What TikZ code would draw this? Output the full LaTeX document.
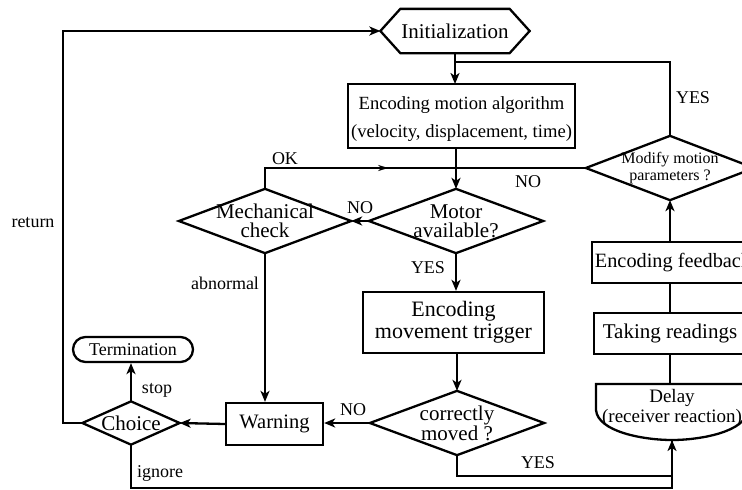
\documentclass[tikz,border=0pt]{standalone}
\usepackage{fontspec}
\setmainfont{Liberation Serif}
\usetikzlibrary{arrows.meta,decorations.markings}
\begin{document}
\begin{tikzpicture}[x=1pt,y=-1pt,
  line width=2.3pt,
  >={Stealth[length=11pt,width=9pt,inset=3pt]},
  box/.style={draw, rectangle, inner xsep=1pt, inner ysep=0pt, align=center},
  shapebox/.style={rectangle, inner sep=0pt, align=center},
  lbl/.style={inner sep=0pt, font=\fontsize{18}{20}\selectfont},
  midarrow/.style={postaction={decorate},decoration={markings,
     mark=at position #1 with {\arrow{Stealth[length=10pt,width=6pt,inset=3pt]}}}}
]
\useasboundingbox (0,0) rectangle (742,490);
\clip (0,0) rectangle (742,490);

% ---- nodes ----
\node[shapebox, minimum width=147pt, minimum height=42pt, font=\fontsize{21}{24}\selectfont] (init) at (455,31) {Initialization};
\draw (init.west) -- ([xshift=20pt]init.north west) -- ([xshift=-20pt]init.north east) -- (init.east)
   -- ([xshift=-20pt]init.south east) -- ([xshift=20pt]init.south west) -- cycle;

\draw (348,84) rectangle (575,148);
\node[shapebox, minimum width=227pt, minimum height=64pt, font=\fontsize{18.6}{28}\selectfont] (alg) at (461.5,119)
  {Encoding motion algorithm\\(velocity, displacement, time)};
\coordinate (algtop) at (456,84);
\coordinate (algbot) at (456,148);

\node[shapebox, minimum width=172pt, minimum height=62pt, font=\fontsize{21}{19}\selectfont] (motor) at (456,221) {Motor\\available?};
\node[shapebox, minimum width=170pt, minimum height=62pt, font=\fontsize{21}{19}\selectfont] (mech) at (265,221) {Mechanical\\check};
\node[box, minimum width=181pt, minimum height=61pt, font=\fontsize{22}{22}\selectfont] (trig) at (453.5,322.5) {Encoding\\movement trigger};
\node[shapebox, minimum width=172pt, minimum height=62pt, font=\fontsize{21}{20}\selectfont] (corr) at (457,423) {correctly\\moved ?};
\node[box, minimum width=97pt, minimum height=42pt, font=\fontsize{20.5}{22}\selectfont] (warn) at (274.5,424) {Warning};
\node[shapebox, minimum width=95pt, minimum height=41pt, font=\fontsize{21}{22}\selectfont] (choice) at (131,423) {Choice};
\node[box, rounded corners=12.5pt, minimum width=120pt, minimum height=25pt, font=\fontsize{18}{20}\selectfont] (term) at (133,349.5) {Termination};
\node[shapebox, minimum width=166pt, minimum height=62pt, font=\fontsize{16}{17}\selectfont] (modify) at (670,168) {Modify motion\\parameters ?};
\node[box, minimum width=162pt, minimum height=41pt, font=\fontsize{20.3}{22}\selectfont] (feed) at (673,262.5) {Encoding feedback};
\node[box, minimum width=152pt, minimum height=41pt, font=\fontsize{21}{22}\selectfont] (read) at (670,333.5) {Taking readings};
\node[shapebox, minimum width=150pt, minimum height=40pt, font=\fontsize{19}{20}\selectfont] (delay) at (672,408) {Delay\\(receiver reaction)};
\draw (596,384) -- (748,384) -- (748,410) .. controls (746,432) and (700,440) .. (672,440)
   .. controls (644,440) and (598,432) .. (596,410) -- cycle;
\coordinate (delaytop) at (672,384);
\coordinate (delaybot) at (672,440);

\foreach \n in {motor,mech,corr,choice,modify}
  \draw (\n.north) -- (\n.east) -- (\n.south) -- (\n.west) -- cycle;

% ---- helper coordinates ----
\coordinate (retcorner) at (63,423);
\coordinate (yesj) at (455,62);
\coordinate (okj) at (456,168);
\coordinate (ign) at (131,488);
\coordinate (yesc) at (457,476);

% ---- connectors ----
\draw[->] (choice.west) -- (retcorner) |- (init.west);
\draw[->] (init.south) -- (init.south |- algtop);
\draw (modify.north) |- (yesj);
\draw[->] (algbot) -- (motor.north);
\draw[midarrow=0.68] (mech.north) |- (okj);
\draw (modify.west) -- (okj);
\draw[->] (motor.west) -- (mech.east);
\draw[->] (motor.south) -- (trig.north -| motor.south);
\draw[->] (trig.south -| corr.north) -- (corr.north);
\draw[->] (corr.west) -- (warn.east |- corr.west);
\draw[->] (mech.south) -- (mech.south |- warn.north);
\draw[->] (warn.west) -- (choice.east);
\draw[->] (choice.north) -- (choice.north |- term.south);
\draw[->] (choice.south) -- (ign) -| (delaybot);
\draw (corr.south) -- (yesc) -| (delaybot);
\draw (read.south) -- (read.south |- delaytop);
\draw (read.north) -- (read.north |- feed.south);
\draw[->] (modify.south |- feed.north) -- (modify.south);

% ---- labels ----
\node[lbl] (lreturn) at (33,223) {return};
\node[lbl] (lok) at (285,159) {OK};
\node[lbl] (lnomotor) at (360,208) {NO};
\node[lbl] (lnomod) at (528,182) {NO};
\node[lbl] (lyesmod) at (693,98) {YES};
\node[lbl] (lyesmotor) at (428,268) {YES};
\node[lbl] (labn) at (225,283) {abnormal};
\node[lbl] (lnocorr) at (353,410) {NO};
\node[lbl] (lstop) at (157,390) {stop};
\node[lbl] (lignore) at (160,473) {ignore};
\node[lbl] (lyescorr) at (538,463) {YES};
\end{tikzpicture}
\end{document}
